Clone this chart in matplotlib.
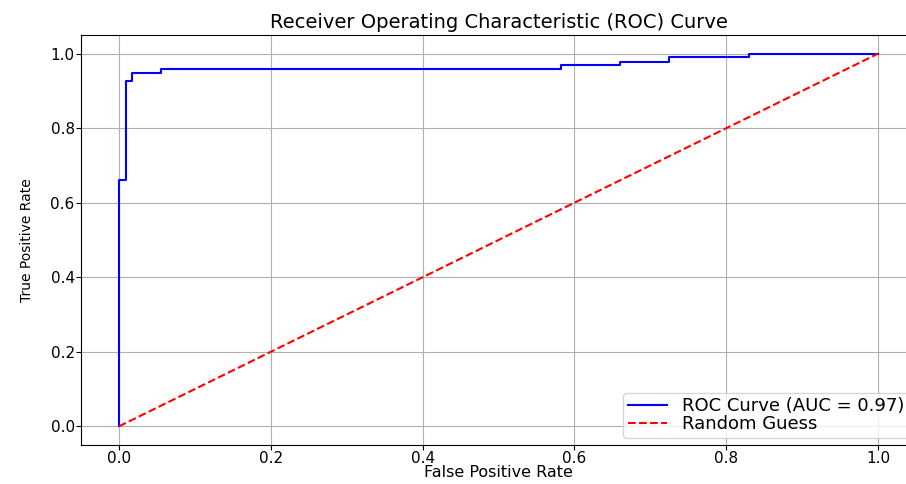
import numpy as np
import matplotlib.pyplot as plt

# ROC curve steps
fpr = [0.0, 0.0, 0.009, 0.009, 0.0176, 0.0176, 0.055, 0.055, 0.583, 0.583,
       0.660, 0.660, 0.725, 0.725, 0.830, 0.830, 1.0]
tpr = [0.0, 0.661, 0.661, 0.926, 0.926, 0.948, 0.948, 0.959, 0.959, 0.970,
       0.970, 0.979, 0.979, 0.991, 0.991, 1.0, 1.0]
auc_value = 0.97
diag = [0.0, 1.0]

fig = plt.figure(figsize=(9.06, 4.84), dpi=100)
ax = fig.add_axes([0.0894, 0.0806, 0.9216, 0.847])

ax.plot(fpr, tpr, color='blue', lw=1.5, label='ROC Curve (AUC = %.2f)' % auc_value)
ax.plot(diag, diag, color='red', ls='--', lw=1.5, label='Random Guess')

ax.set_title('Receiver Operating Characteristic (ROC) Curve', fontsize=14, pad=5)
ax.set_xlabel('False Positive Rate', fontsize=11.5, labelpad=-1)
ax.set_ylabel('True Positive Rate', fontsize=10, labelpad=12,
              family=['Liberation Sans Narrow', 'DejaVu Sans'])
ax.tick_params(labelsize=11, pad=1)
ax.legend(loc='lower right', fontsize=13, labelspacing=0.0, borderpad=0.25,
          handlelength=2.2, handletextpad=0.8, borderaxespad=0.4)
ax.grid(True)

plt.savefig('out.png', dpi=100)
